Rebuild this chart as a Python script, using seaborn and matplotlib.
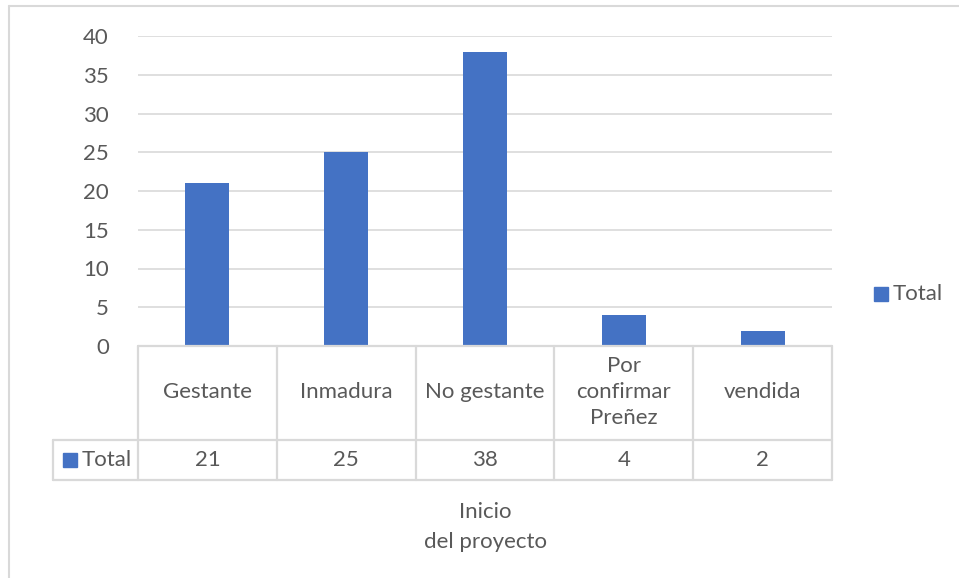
import matplotlib
matplotlib.use("Agg")
import matplotlib.pyplot as plt
import seaborn as sns
import pandas as pd
from matplotlib.patches import Rectangle
from matplotlib.lines import Line2D

# Data
categories = ["Gestante", "Inmadura", "No gestante", "Por\nconfirmar\nPreñez", "vendida"]
totals = [21, 25, 38, 4, 2]
series_name = "Total"
axis_title = "Inicio\ndel proyecto"
y_ticks = [0, 5, 10, 15, 20, 25, 30, 35, 40]

df = pd.DataFrame({"estado": categories, "total": totals})

sns.set_theme(style="white")
plt.rcParams["font.family"] = ["Lato", "DejaVu Sans"]

BAR = "#4472C4"
TXT = "#595959"
GRID = "#D9D9D9"
FS = 16

W, H = 959, 578
fig = plt.figure(figsize=(W / 100, H / 100), dpi=100)


def fx(px):
    return px / W


def fy(py):
    return 1 - py / H


# Plot area
x0, x1, y_top, y_base = 138, 832, 36, 346
ax = fig.add_axes([fx(x0), fy(y_base), fx(x1 - x0), (y_base - y_top) / H])
sns.barplot(data=df, x="estado", y="total", color=BAR, width=0.317,
            saturation=1, linewidth=0, ax=ax, zorder=3)
ax.set_xlim(-0.5, len(categories) - 0.5)
ax.set_ylim(0, 40)
ax.set_yticks(y_ticks)
ax.set_yticklabels([str(t) for t in y_ticks], color=TXT, fontsize=FS)
ax.tick_params(axis="y", length=0, pad=21)
ax.tick_params(axis="x", length=0, labelbottom=False)
ax.set_xlabel("")
ax.set_ylabel("")
for s in ax.spines.values():
    s.set_visible(False)
ax.yaxis.grid(True, color=GRID, linewidth=1.2, zorder=0)
ax.set_axisbelow(True)

# Data table below the plot area
col_w = (x1 - x0) / len(categories)
t_left, row1, row2 = 53, 440, 480
lw = 1.6


def hline(xa, xb, yy):
    fig.add_artist(Line2D([fx(xa), fx(xb)], [fy(yy), fy(yy)], color=GRID,
                          linewidth=lw, transform=fig.transFigure))


def vline(xx, ya, yb):
    fig.add_artist(Line2D([fx(xx), fx(xx)], [fy(ya), fy(yb)], color=GRID,
                          linewidth=lw, transform=fig.transFigure))


hline(x0, x1, y_base)
hline(t_left, x1, row1)
hline(t_left, x1, row2)
vline(t_left, row1, row2)
for i in range(len(categories) + 1):
    vline(x0 + i * col_w, y_base, row2)

for i, (cat, val) in enumerate(zip(categories, totals)):
    cx = x0 + (i + 0.5) * col_w
    fig.text(fx(cx), fy((y_base + row1) / 2 - 1), cat, ha="center",
             va="center", color=TXT, fontsize=FS, linespacing=1.4)
    fig.text(fx(cx), fy((row1 + row2) / 2), str(val), ha="center",
             va="center", color=TXT, fontsize=FS)

# Legend key in the table row
fig.add_artist(Rectangle((fx(63), fy(467)), fx(14), 14 / H, color=BAR,
                         transform=fig.transFigure))
fig.text(fx(82), fy(460), series_name, ha="left", va="center", color=TXT,
         fontsize=FS)

# Chart legend
fig.add_artist(Rectangle((fx(874), fy(301)), fx(14), 14 / H, color=BAR,
                         transform=fig.transFigure))
fig.text(fx(893), fy(294), series_name, ha="left", va="center", color=TXT,
         fontsize=FS)

# Axis title
fig.text(fx((x0 + x1) / 2), fy(527), axis_title, ha="center", va="center",
         color=TXT, fontsize=FS, linespacing=1.6)

# Chart frame
fig.add_artist(Line2D([fx(9), fx(959)], [fy(6), fy(6)], color=GRID,
                      linewidth=1.5, transform=fig.transFigure))
fig.add_artist(Line2D([fx(9), fx(9)], [fy(6), fy(578)], color=GRID,
                      linewidth=1.5, transform=fig.transFigure))

fig.savefig("out.png", dpi=100)
